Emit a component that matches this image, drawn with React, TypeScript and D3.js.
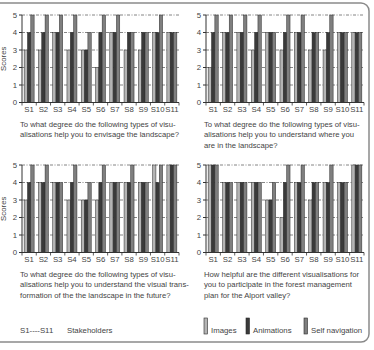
import React from "react";
import * as d3 from "d3";

const stakeholders = ["S1", "S2", "S3", "S4", "S5", "S6", "S7", "S8", "S9", "S10", "S11"];
const seriesNames = ["Images", "Animations", "Self navigation"];
const scoreTicks = [0, 1, 2, 3, 4, 5];

// Scores per stakeholder: [Images, Animations, Self navigation]
const envisageScores = [
  [3, 4, 5], [3, 4, 5], [4, 4, 5], [3, 4, 5], [3, 3, 4], [2, 4, 5],
  [4, 4, 5], [3, 4, 4], [3, 4, 4], [4, 4, 5], [4, 4, 4],
];
const whereScores = [
  [2, 4, 5], [4, 4, 5], [4, 4, 5], [3, 4, 5], [4, 4, 4], [3, 4, 5],
  [4, 4, 5], [3, 4, 4], [3, 4, 5], [4, 4, 4], [4, 4, 4],
];
const futureScores = [
  [3, 4, 5], [4, 4, 5], [4, 4, 4], [3, 4, 5], [3, 3, 4], [3, 4, 5],
  [4, 4, 4], [4, 4, 5], [4, 4, 4], [5, 4, 5], [5, 5, 5],
];
const participateScores = [
  [5, 5, 5], [4, 4, 4], [4, 4, 4], [4, 4, 4], [3, 3, 4], [2, 4, 5],
  [4, 4, 5], [3, 4, 4], [4, 4, 5], [4, 4, 4], [5, 5, 5],
];

const captionEnvisage = [
  "To what degree do the following types of visu-",
  "alisations help you to envisage the landscape?",
];
const captionWhere = [
  "To what degree do the following types of visu-",
  "alisations help you to understand where you",
  "are in the landscape?",
];
const captionFuture = [
  "To what degree do the following types of visu-",
  "alisations help you to understand the visual trans-",
  "formation of the the landscape in the future?",
];
const captionParticipate = [
  "How helpful are the different visualisations for",
  "you to participate in the forest management",
  "plan for the Alport valley?",
];

const seriesColors = ["#b4b4b4", "#3a3a3a", "#7f7f7f"];
const FONT = "'Liberation Sans', Arial, sans-serif";
const TEXT = "#444";

type PanelProps = {
  data: number[][];
  caption: string[];
  x0: number;
  x1: number;
  yTop: number;
  yBase: number;
  showTitle: boolean;
};

function Panel({ data, caption, x0, x1, yTop, yBase, showTitle }: PanelProps) {
  const x = d3.scaleBand<string>().domain(stakeholders).range([x0, x1]).paddingInner(0.3).paddingOuter(0.15);
  const inner = d3.scaleBand<string>().domain(seriesNames).range([0, x.bandwidth()]).padding(0);
  const y = d3.scaleLinear().domain([0, 5]).range([yBase, yTop]);
  const step = (x1 - x0) / stakeholders.length;
  const bounds = d3.range(stakeholders.length + 1).map((i) => x0 + i * step);

  return (
    <g>
      {scoreTicks.slice(1).map((t) => (
        <line key={"g" + t} x1={x0} x2={x1} y1={y(t)} y2={y(t)} stroke="#666" strokeWidth={0.8} strokeDasharray="3 1.5 1 1.5" />
      ))}
      {data.map((row, i) =>
        row.map((v, j) => (
          <rect
            key={i + "-" + j}
            x={(x(stakeholders[i]) as number) + (inner(seriesNames[j]) as number)}
            y={y(v)}
            width={inner.bandwidth()}
            height={yBase - y(v)}
            fill={seriesColors[j]}
            stroke="#2a2a2a"
            strokeWidth={0.5}
          />
        ))
      )}
      <line x1={x0} x2={x0} y1={yTop} y2={yBase} stroke="#333" strokeWidth={1} />
      <line x1={x0} x2={x1} y1={yBase} y2={yBase} stroke="#333" strokeWidth={1} />
      {scoreTicks.map((t) => (
        <g key={"t" + t}>
          <line x1={x0 - 3} x2={x0} y1={y(t)} y2={y(t)} stroke="#333" />
          <text x={x0 - 5} y={y(t) + 2.7} fontSize={7.8} textAnchor="end" fill={TEXT} fontFamily={FONT}>
            {t}
          </text>
        </g>
      ))}
      {bounds.map((b, i) => (
        <line key={"b" + i} x1={b} x2={b} y1={yBase} y2={yBase + 3} stroke="#333" strokeWidth={0.8} />
      ))}
      {stakeholders.map((s) => (
        <text
          key={s}
          x={(x(s) as number) + x.bandwidth() / 2}
          y={yBase + 9.8}
          fontSize={7.8}
          textAnchor="middle"
          fill={TEXT}
          fontFamily={FONT}
        >
          {s}
        </text>
      ))}
      {showTitle && (
        <text
          transform={`translate(${x0 - 16},${(yTop + yBase) / 2}) rotate(-90)`}
          fontSize={7.8}
          textAnchor="middle"
          fill={TEXT}
          fontFamily={FONT}
        >
          Scores
        </text>
      )}
      {caption.map((line, k) => (
        <text key={"c" + k} x={x0 - 2} y={yBase + 24 + k * 10.8} fontSize={7.7} fill={TEXT} fontFamily={FONT}>
          {line}
        </text>
      ))}
    </g>
  );
}

export default function App() {
  const legendX = [204, 246, 304];
  return (
    <svg width={374} height={350} style={{ position: "absolute", left: 0, top: 0, background: "#fff" }}>
      <rect x={-10} y={3} width={379} height={339} rx={8} fill="#fff" stroke="#8a8a8a" strokeWidth={1.5} />
      <Panel data={envisageScores} caption={captionEnvisage} x0={22} x1={179} yTop={15} yBase={102.5} showTitle />
      <Panel data={whereScores} caption={captionWhere} x0={206} x1={364} yTop={15} yBase={102.5} showTitle={false} />
      <Panel data={futureScores} caption={captionFuture} x0={22} x1={179} yTop={165} yBase={252.5} showTitle />
      <Panel data={participateScores} caption={captionParticipate} x0={206} x1={364} yTop={165} yBase={252.5} showTitle={false} />
      <text x={20} y={333} fontSize={7.8} fill={TEXT} fontFamily={FONT}>
        S1----S11
      </text>
      <text x={67} y={333} fontSize={7.8} fill={TEXT} fontFamily={FONT}>
        Stakeholders
      </text>
      {seriesNames.map((n, i) => (
        <g key={n}>
          <rect x={legendX[i]} y={318} width={3.5} height={16} fill={seriesColors[i]} stroke="#2a2a2a" strokeWidth={0.6} />
          <text x={legendX[i] + 7} y={333} fontSize={7.8} fill={TEXT} fontFamily={FONT}>
            {n}
          </text>
        </g>
      ))}
    </svg>
  );
}
